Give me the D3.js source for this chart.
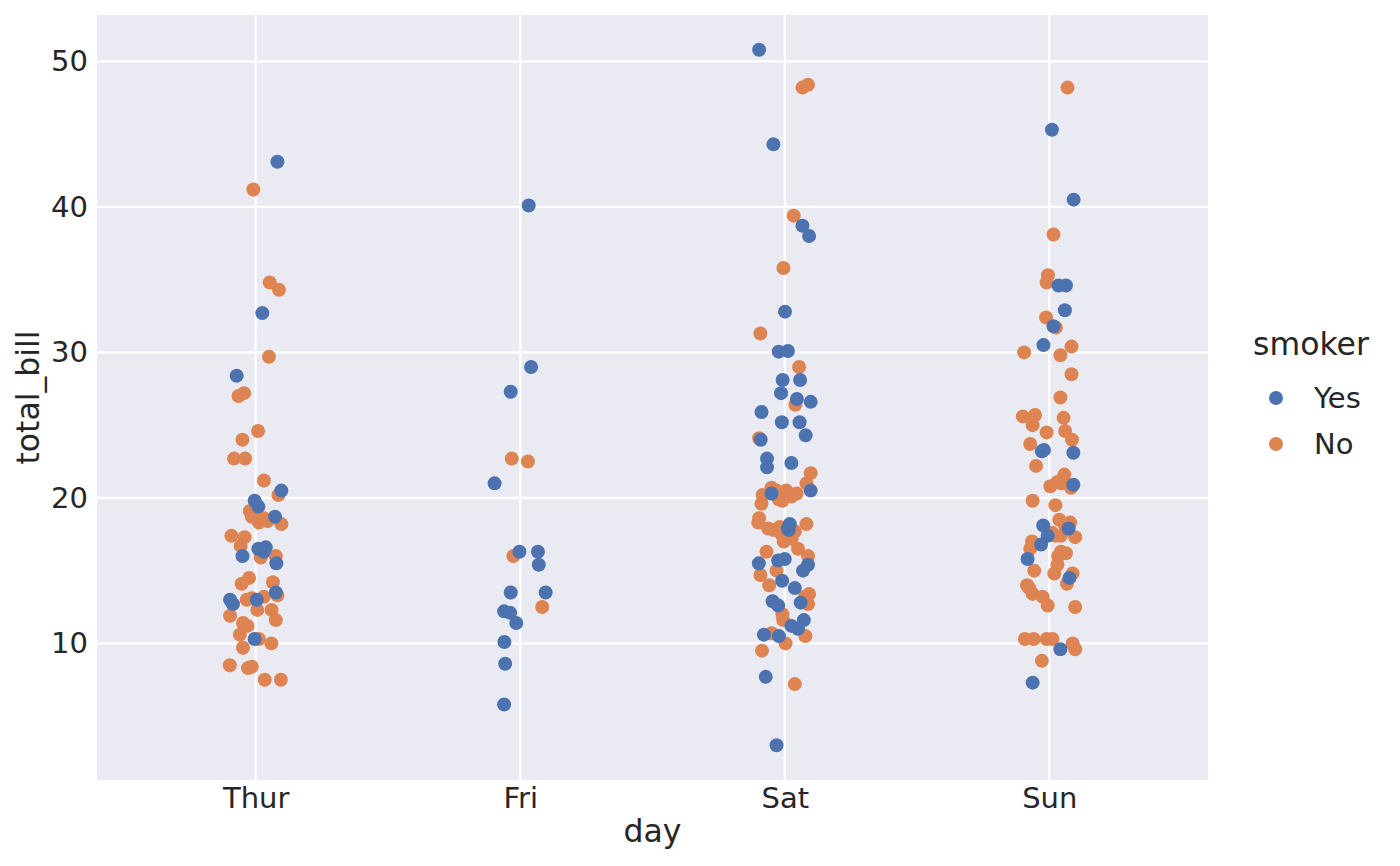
<!DOCTYPE html>
<html>
<head>
<meta charset="utf-8">
<script src="https://cdn.jsdelivr.net/npm/d3@7"></script>
<style>
    html, body { margin: 0; padding: 0; background: #ffffff; }
    svg { display: block; font-family: "DejaVu Sans", sans-serif; }
</style>
</head>
<body>
<svg id="chart" width="1400" height="866"></svg>
<script>
// categories and hue levels
const days = ["Thur", "Fri", "Sat", "Sun"];
const smokerLevels = ["Yes", "No"];
const yTicks = [10, 20, 30, 40, 50];

// [total_bill, jitter in category units]
const thurYes = [[43.1, 0.082], [32.7, 0.025], [28.4, -0.072], [20.5, 0.097], [19.8, -0.004], [19.4, 0.010],
    [18.7, 0.073], [16.5, 0.010], [16.6, 0.038], [16.3, 0.031], [16.0, -0.050], [15.5, 0.078], [13.5, 0.076],
    [13.0, -0.097], [12.7, -0.086], [13.0, 0.004], [10.3, -0.004]];
const thurNo = [[41.2, -0.009], [34.8, 0.053], [34.3, 0.088], [29.7, 0.050], [27.0, -0.065], [27.2, -0.044],
    [24.6, 0.009], [24.0, -0.050], [22.7, -0.082], [22.7, -0.040], [21.2, 0.031], [20.2, 0.086], [19.1, -0.022],
    [18.7, -0.015], [18.3, 0.012], [18.6, 0.031], [18.2, 0.097], [17.4, -0.092], [17.3, -0.042], [16.7, -0.057],
    [15.9, 0.019], [16.0, 0.076], [14.5, -0.025], [14.1, -0.053], [14.2, 0.065], [13.3, 0.082], [13.1, -0.015],
    [13.2, 0.031], [12.3, 0.006], [12.3, 0.060], [11.6, 0.076], [11.9, -0.097], [11.4, -0.048], [11.2, -0.031],
    [10.6, -0.060], [10.3, 0.012], [10.0, 0.059], [9.7, -0.048], [8.5, -0.098], [8.3, -0.029], [8.4, -0.015],
    [7.5, 0.034], [7.5, 0.095], [18.4, 0.045], [13.0, -0.034]];
const friYes = [[40.1, 0.032], [29.0, 0.041], [27.3, -0.036], [21.0, -0.097], [16.3, -0.003], [16.3, 0.067],
    [15.4, 0.070], [13.5, -0.036], [13.5, 0.096], [12.2, -0.061], [12.1, -0.038], [11.4, -0.015], [10.1, -0.060],
    [8.6, -0.057], [5.8, -0.061]];
const friNo = [[22.7, -0.032], [22.5, 0.029], [16.0, -0.026], [12.5, 0.083]];
const satYes = [[50.8, -0.097], [44.3, -0.043], [38.7, 0.067], [38.0, 0.092], [32.8, 0.001], [30.05, -0.023],
    [30.1, 0.012], [28.1, -0.008], [28.1, 0.058], [27.2, -0.014], [26.8, 0.046], [26.6, 0.098], [25.9, -0.088],
    [25.2, -0.011], [25.2, 0.056], [24.3, 0.079], [24.0, -0.091], [22.7, -0.067], [22.1, -0.067], [22.4, 0.025],
    [20.5, 0.098], [20.3, -0.050], [18.2, 0.019], [17.9, 0.012], [15.5, -0.098], [15.7, -0.025], [15.8, 0.000],
    [15.4, 0.088], [15.0, 0.069], [14.3, -0.010], [13.8, 0.038], [12.8, 0.060], [12.9, -0.046], [12.6, -0.025],
    [11.2, 0.025], [11.0, 0.050], [11.6, 0.072], [10.6, -0.079], [10.5, -0.022], [7.7, -0.072], [3.0, -0.031],
    [17.8, 0.015]];
const satNo = [[48.2, 0.067], [48.4, 0.088], [39.4, 0.034], [35.8, -0.005], [31.3, -0.092], [29.0, 0.054],
    [26.4, 0.040], [24.1, -0.097], [21.7, 0.098], [21.0, 0.082], [20.7, -0.050], [20.5, -0.031], [20.5, 0.006],
    [20.1, 0.025], [19.8, -0.009], [20.2, -0.084], [19.6, -0.088], [18.6, -0.097], [18.3, -0.100], [18.2, 0.082],
    [17.9, -0.063], [17.8, -0.044], [17.7, 0.038], [17.5, -0.012], [17.0, -0.004], [16.3, -0.069], [16.5, 0.050],
    [16.0, 0.088], [15.0, -0.031], [14.7, -0.092], [14.0, -0.059], [13.4, 0.092], [12.7, 0.088], [12.0, -0.009],
    [11.6, -0.006], [10.5, 0.078], [10.7, -0.050], [10.0, 0.003], [9.5, -0.086], [7.2, 0.038], [20.3, 0.045],
    [19.9, -0.023], [18.0, -0.019], [17.2, 0.026], [13.2, 0.076]];
const sunYes = [[45.3, 0.010], [40.5, 0.092], [34.6, 0.035], [34.6, 0.063], [32.9, 0.059], [31.8, 0.016],
    [30.5, -0.022], [23.2, -0.028], [23.3, -0.020], [23.1, 0.091], [20.9, 0.091], [18.1, -0.023], [17.9, 0.073],
    [17.4, -0.006], [16.8, -0.031], [15.8, -0.082], [14.5, 0.076], [9.6, 0.042], [7.3, -0.063]];
const sunNo = [[48.2, 0.069], [38.1, 0.016], [35.3, -0.005], [34.8, -0.010], [32.4, -0.012], [31.7, 0.025],
    [30.4, 0.084], [30.0, -0.095], [29.8, 0.042], [28.5, 0.084], [26.9, 0.042], [25.6, -0.100], [25.7, -0.054],
    [25.5, 0.054], [25.0, -0.063], [24.6, 0.060], [24.5, -0.010], [24.0, 0.086], [23.7, -0.072], [22.2, -0.050],
    [21.6, 0.057], [21.1, 0.031], [20.8, 0.004], [20.7, 0.082], [19.8, -0.063], [19.5, 0.023], [18.5, 0.038],
    [18.3, 0.079], [17.4, 0.023], [17.4, 0.044], [17.3, 0.098], [17.0, -0.065], [16.5, -0.072], [16.3, 0.044],
    [16.2, 0.063], [15.0, -0.057], [15.4, 0.031], [14.8, 0.019], [14.8, 0.088], [14.1, 0.067], [14.0, -0.084],
    [13.4, -0.063], [13.2, -0.025], [12.6, -0.006], [12.5, 0.098], [10.3, -0.092], [10.3, -0.059], [10.3, -0.010],
    [10.3, 0.012], [10.0, 0.088], [9.6, 0.098], [8.8, -0.028], [18.2, 0.057], [17.6, 0.011], [16.0, 0.034],
    [13.8, -0.076], [21.0, 0.045]];

const seriesByDay = {
    Thur: { Yes: thurYes, No: thurNo },
    Fri: { Yes: friYes, No: friNo },
    Sat: { Yes: satYes, No: satNo },
    Sun: { Yes: sunYes, No: sunNo }
};

const colors = { Yes: "#4c72b0", No: "#dd8452" };
const textColor = "#262626";

const svg = d3.select("#chart");
const plot = { left: 97, right: 1208, top: 15, bottom: 780 };

// flatten into point records, non-smokers first so blue sits on top
let points = [];
days.forEach(function (day) {
    ["No", "Yes"].forEach(function (s) {
        seriesByDay[day][s].forEach(function (d) {
            points.push({ day: day, smoker: s, bill: d[0], jitter: d[1] });
        });
    });
});

const x = d3.scalePoint()
    .domain(days)
    .range([plot.left, plot.right])
    .padding(0.6);

const ext = d3.extent(points, d => d.bill);
const pad = (ext[1] - ext[0]) * 0.05;
const y = d3.scaleLinear()
    .domain([ext[0] - pad, ext[1] + pad])
    .range([plot.bottom, plot.top]);

// background panel
svg.append("rect")
    .attr("x", plot.left)
    .attr("y", plot.top)
    .attr("width", plot.right - plot.left)
    .attr("height", plot.bottom - plot.top)
    .attr("fill", "#eaeaf2");

// grid lines
svg.append("g")
    .selectAll("line")
    .data(yTicks)
    .join("line")
    .attr("x1", plot.left)
    .attr("x2", plot.right)
    .attr("y1", d => y(d))
    .attr("y2", d => y(d))
    .attr("stroke", "#ffffff")
    .attr("stroke-width", 2.2);

svg.append("g")
    .selectAll("line")
    .data(days)
    .join("line")
    .attr("x1", d => x(d))
    .attr("x2", d => x(d))
    .attr("y1", plot.top)
    .attr("y2", plot.bottom)
    .attr("stroke", "#ffffff")
    .attr("stroke-width", 2.2);

// axes (labels only, no spines or ticks)
let yAxis = svg.append("g")
    .attr("transform", "translate(" + plot.left + ",0)")
    .call(d3.axisLeft(y).tickValues(yTicks).tickSize(0).tickPadding(9));
let xAxis = svg.append("g")
    .attr("transform", "translate(0," + plot.bottom + ")")
    .call(d3.axisBottom(x).tickSize(0).tickPadding(7));

[yAxis, xAxis].forEach(function (ax) {
    ax.select(".domain").remove();
    ax.selectAll("text")
        .attr("fill", textColor)
        .style("font-size", "29px")
        .style("font-family", "DejaVu Sans, sans-serif");
});

// points
svg.append("g")
    .selectAll("circle")
    .data(points)
    .join("circle")
    .attr("cx", d => x(d.day) + d.jitter * x.step())
    .attr("cy", d => y(d.bill))
    .attr("r", 7)
    .attr("fill", d => colors[d.smoker]);

// axis titles
svg.append("text")
    .attr("x", (plot.left + plot.right) / 2)
    .attr("y", 842)
    .attr("text-anchor", "middle")
    .attr("fill", textColor)
    .style("font-size", "31.5px")
    .text("day");

svg.append("text")
    .attr("transform", "translate(39," + (plot.top + plot.bottom) / 2 + ") rotate(-90)")
    .attr("text-anchor", "middle")
    .attr("fill", textColor)
    .style("font-size", "31.5px")
    .text("total_bill");

// legend
let legend = svg.append("g");
legend.append("text")
    .attr("x", 1311)
    .attr("y", 355)
    .attr("text-anchor", "middle")
    .attr("fill", textColor)
    .style("font-size", "31.5px")
    .text("smoker");

let items = legend.selectAll("g.item")
    .data(smokerLevels)
    .join("g")
    .classed("item", true)
    .attr("transform", (d, i) => "translate(1276," + (398 + i * 46) + ")");

items.append("circle")
    .attr("r", 7)
    .attr("fill", d => colors[d]);

items.append("text")
    .attr("x", 38)
    .attr("dy", "0.35em")
    .attr("fill", textColor)
    .style("font-size", "29px")
    .text(d => d);
</script>
</body>
</html>
